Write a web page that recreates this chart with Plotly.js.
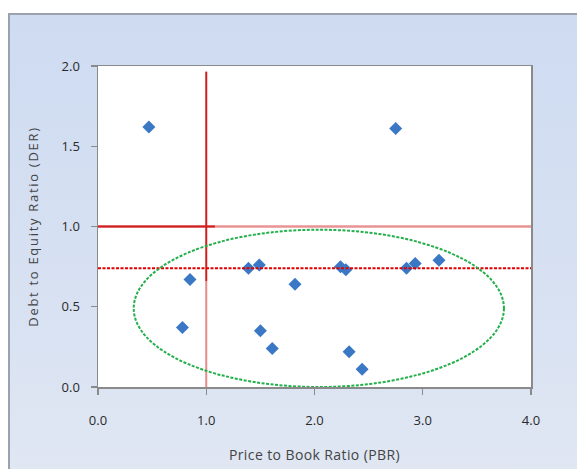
<!DOCTYPE html>
<html>
<head>
<meta charset="utf-8">
<script src="https://cdn.plot.ly/plotly-3.0.1.min.js"></script>
<style>
html,body{margin:0;padding:0;background:#fff;}
#bg{position:absolute;left:8px;top:13px;width:569px;height:456px;
 border-top:2px solid #9aa3ad;border-left:2px solid #9aa3ad;box-sizing:border-box;
 background:linear-gradient(to bottom,#cedbf1 0%,#d7e1f2 60%,#e0e7f3 100%);}
#chart{position:absolute;left:0;top:0;width:577px;height:469px;}
#chart .ytitle{letter-spacing:1.7px;}
#chart .xtitle{letter-spacing:0.4px;}
</style>
</head>
<body>
<div id="bg"></div>
<div id="chart"></div>
<script>
// Data
var pbr = [0.47, 2.75, 0.78, 0.85, 1.39, 1.49, 1.50, 1.61, 1.82, 2.24, 2.29, 2.32, 2.44, 2.85, 2.93, 3.15];
var der = [1.62, 1.61, 0.37, 0.67, 0.74, 0.76, 0.35, 0.24, 0.64, 0.75, 0.73, 0.22, 0.11, 0.74, 0.77, 0.79];
var xTicks = [0, 1, 2, 3, 4];
var xTickLabels = ["0.0", "1.0", "2.0", "3.0", "4.0"];
var yTicks = [0, 0.5, 1, 1.5, 2];
var yTickLabels = ["0.0", "0.5", "1.0", "1.5", "2.0"];
var pbrThreshold = 1.0;
var derThreshold = 1.0;
var derAverage = 0.74;
var ellipseX = [0.33, 3.75];
var ellipseY = [0.0, 0.98];

var trace = {
  x: pbr, y: der, type: 'scatter', mode: 'markers',
  marker: {symbol: 'diamond', size: 10, color: '#3a78c6'},
  hoverinfo: 'skip', showlegend: false
};

var axisCommon = {
  showgrid: false, zeroline: false, showline: true, linecolor: '#8a8a8a', linewidth: 1.5,
  mirror: true, ticks: 'outside', ticklen: 6, tickcolor: '#8a8a8a', tickwidth: 1.2,
  tickfont: {family: 'Open Sans, sans-serif', size: 13, color: '#2a2a2a'}
};

var layout = {
  width: 577, height: 469,
  margin: {l: 98, r: 46, t: 66, b: 82},
  paper_bgcolor: 'rgba(0,0,0,0)', plot_bgcolor: '#ffffff',
  xaxis: Object.assign({}, axisCommon, {
    range: [0, 4], tickvals: xTicks, ticktext: xTickLabels, ticklabelstandoff: 15,
    title: {text: 'Price to Book Ratio (PBR)', standoff: 22,
      font: {family: 'Open Sans, sans-serif', size: 14, color: '#444'}}
  }),
  yaxis: Object.assign({}, axisCommon, {
    range: [0, 2], tickvals: yTicks, ticktext: yTickLabels, ticklabelstandoff: 8,
    title: {text: 'Debt to Equity Ratio (DER)', standoff: 20,
      font: {family: 'Open Sans, sans-serif', size: 13, color: '#444'}}
  }),
  shapes: [
    {type: 'line', xref: 'x', yref: 'y', x0: 0, x1: 4, y0: derThreshold, y1: derThreshold,
     line: {color: 'rgba(215,60,60,0.55)', width: 2.5}},
    {type: 'line', xref: 'x', yref: 'y', x0: 0, x1: 1.08, y0: derThreshold, y1: derThreshold,
     line: {color: '#d01e1e', width: 2}},
    {type: 'line', xref: 'x', yref: 'y', x0: pbrThreshold, x1: pbrThreshold, y0: 0, y1: 0.66,
     line: {color: 'rgba(215,60,60,0.6)', width: 2}},
    {type: 'line', xref: 'x', yref: 'y', x0: pbrThreshold, x1: pbrThreshold, y0: 0.66, y1: 1.965,
     line: {color: '#d01e1e', width: 2}},
    {type: 'line', xref: 'x', yref: 'y', x0: 0, x1: 4, y0: derAverage, y1: derAverage,
     line: {color: '#e00000', width: 2, dash: '3px,1.5px'}},
    {type: 'circle', xref: 'x', yref: 'y', x0: ellipseX[0], x1: ellipseX[1], y0: ellipseY[0], y1: ellipseY[1],
     line: {color: '#22b04a', width: 2, dash: '3px,1.5px'}}
  ]
};

Plotly.newPlot('chart', [trace], layout, {displayModeBar: false, staticPlot: true});
</script>
</body>
</html>
